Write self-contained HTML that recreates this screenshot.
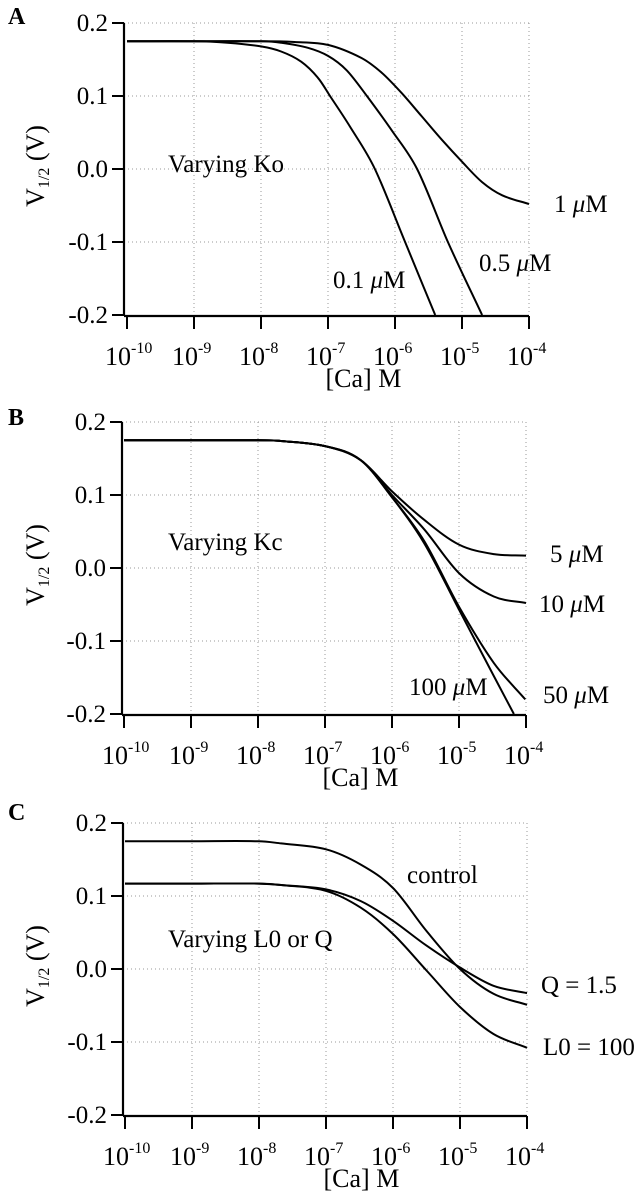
<!DOCTYPE html>
<html><head><meta charset="utf-8">
<style>
html,body{margin:0;padding:0;background:#fff;}
svg{display:block;font-family:"Liberation Serif",serif;}
</style></head>
<body>
<svg id="fig" width="640" height="1199" viewBox="0 0 640 1199" xmlns="http://www.w3.org/2000/svg"></svg>
<script>
// ---- data (x = log10 [Ca] M, y = V1/2 in V) ----
const xTicks = [-10,-9,-8,-7,-6,-5,-4];
const yTicks = [0.2,0.1,0.0,-0.1,-0.2];
const yTickLabels = ["0.2","0.1","0.0","-0.1","-0.2"];
const xTickExps = ["-10","-9","-8","-7","-6","-5","-4"];

const aKo01X = [-10,-9,-8.5,-8,-7.7,-7.4,-7.15,-6.97,-6.65,-6.3,-5.85,-5.4];
const aKo01Y = [0.175,0.175,0.173,0.168,0.161,0.147,0.125,0.1,0.055,0.0,-0.1,-0.2];
const aKo05X = [-10,-9,-8,-7.7,-7.3,-7,-6.72,-6.42,-6.05,-5.67,-5.21,-4.7];
const aKo05Y = [0.175,0.175,0.175,0.173,0.166,0.155,0.135,0.1,0.053,0.0,-0.1,-0.2];
const aKo1X = [-10,-9,-8,-7.5,-7,-6.5,-6.2,-5.9,-5.6,-5.3,-5,-4.7,-4.4,-4];
const aKo1Y = [0.175,0.175,0.175,0.174,0.170,0.152,0.132,0.104,0.072,0.040,0.010,-0.018,-0.036,-0.048];

const bKc5X = [-10,-9,-8,-7.66,-7,-6.47,-6,-5.52,-5,-4.48,-4];
const bKc5Y = [0.175,0.175,0.175,0.174,0.167,0.148,0.105,0.066,0.032,0.019,0.017];
const bKc10X = [-10,-9,-8,-7.66,-7,-6.47,-6,-5.52,-5,-4.48,-4];
const bKc10Y = [0.175,0.175,0.175,0.174,0.167,0.148,0.1,0.053,-0.007,-0.039,-0.048];
const bKc50X = [-10,-9,-8,-7.66,-7,-6.47,-6,-5.52,-5,-4.48,-4.01];
const bKc50Y = [0.175,0.175,0.175,0.174,0.167,0.148,0.097,0.037,-0.053,-0.13,-0.18];
const bKc100X = [-10,-9,-8,-7.66,-7,-6.47,-6,-5.52,-5,-4.48,-4.18];
const bKc100Y = [0.175,0.175,0.175,0.174,0.167,0.148,0.097,0.034,-0.057,-0.148,-0.2];

const cCtrlX = [-10,-9,-8,-7.67,-7,-6.48,-6,-5.5,-5,-4.5,-4];
const cCtrlY = [0.175,0.175,0.175,0.172,0.164,0.143,0.111,0.052,0.0,-0.034,-0.049];
const cQX = [-10,-9,-8,-7.67,-7,-6.48,-6,-5.5,-5,-4.5,-4];
const cQY = [0.117,0.117,0.117,0.115,0.109,0.093,0.066,0.032,0.002,-0.023,-0.033];
const cL0X = [-10,-9,-8,-7.67,-7,-6.48,-6,-5.5,-5,-4.5,-4];
const cL0Y = [0.117,0.117,0.117,0.115,0.107,0.084,0.048,-0.002,-0.052,-0.089,-0.108];

const NS = "http://www.w3.org/2000/svg";
const svg = document.getElementById('fig');
function mk(tag, attrs, parent){
  const e = document.createElementNS(NS, tag);
  for (const k in attrs) e.setAttribute(k, attrs[k]);
  (parent||svg).appendChild(e);
  return e;
}
function smoothPath(pts){
  let d = "M"+pts[0][0].toFixed(1)+","+pts[0][1].toFixed(1);
  for (let i=0;i<pts.length-1;i++){
    const p0=pts[Math.max(0,i-1)], p1=pts[i], p2=pts[i+1], p3=pts[Math.min(pts.length-1,i+2)];
    const dx = p2[0]-p1[0];
    const s1 = (p2[1]-p0[1])/((p2[0]-p0[0])||1);
    const s2 = (p3[1]-p1[1])/((p3[0]-p1[0])||1);
    const c1=[p1[0]+dx/3, p1[1]+s1*dx/3];
    const c2=[p2[0]-dx/3, p2[1]-s2*dx/3];
    d += " C"+c1[0].toFixed(1)+","+c1[1].toFixed(1)+" "+c2[0].toFixed(1)+","+c2[1].toFixed(1)+" "+p2[0].toFixed(1)+","+p2[1].toFixed(1);
  }
  return d;
}

function panel(cfg){
  const g = mk('g', {});
  
  
  const sx = v => cfg.x0 + (v+10)*(cfg.x1-cfg.x0)/6;
  const sy = v => cfg.yTop + (0.2-v)*(cfg.yBot-cfg.yTop)/0.4;
  xTicks.forEach((t,i)=>{
    if (i===0) return;
    const l = mk('line',{x1:sx(t),x2:sx(t),y1:sy(0.2),y2:sy(-0.2),stroke:'#999','stroke-width':1,'stroke-dasharray':'1,3'},g);
    
    
  });
  yTicks.forEach((t,i)=>{
    if (i===4) return;
    const l = mk('line',{x1:cfg.ax,x2:sx(-4),y1:sy(t),y2:sy(t),stroke:'#999','stroke-width':1,'stroke-dasharray':'1,3'},g);
    
    
  });
  const ya = mk('line',{x1:cfg.ax,x2:cfg.ax,y1:sy(0.2),y2:sy(-0.2)+1,stroke:'#000','stroke-width':2.2},g);
  
  
  const xa = mk('line',{x1:cfg.ax,x2:sx(-4),y1:sy(-0.2)+1,y2:sy(-0.2)+1,stroke:'#000','stroke-width':2.2},g);
  
  
  yTicks.forEach((t,i)=>{
    const tk = mk('line',{x1:cfg.ax-12,x2:cfg.ax,y1:sy(t),y2:sy(t),stroke:'#000','stroke-width':2},g);
    
    
    const tl = mk('text',{x:cfg.ax-16,y:sy(t)+8,'font-size':25,'text-anchor':'end'},g);
    tl.textContent = yTickLabels[i];
    
    
  });
  xTicks.forEach((t,i)=>{
    const tk = mk('line',{x1:sx(t),x2:sx(t),y1:sy(-0.2)+1,y2:sy(-0.2)+14,stroke:'#000','stroke-width':2},g);
    
    
    const tl = mk('text',{x:sx(t)-22,y:sy(-0.2)+50,'font-size':26},g);
    
    
    const b = mk('tspan',{},tl); b.textContent='10';
    const e = mk('tspan',{dy:-12,'font-size':16},tl); e.textContent=xTickExps[i];
  });
  const xt = mk('text',{x:(sx(-7)+sx(-6))/2-36,y:sy(-0.2)+72,'font-size':26},g);
  xt.textContent='[Ca] M';
  
  
  const yt = mk('text',{transform:'translate(44,'+(sy(0.0)-3)+') rotate(-90)','font-size':26,'text-anchor':'middle'},g);
  
  
  const v = mk('tspan',{},yt); v.textContent='V';
  const s = mk('tspan',{'font-size':16,dy:5},yt); s.textContent='1/2';
  const r = mk('tspan',{dy:-5},yt); r.textContent=' (V)';
  const pl = mk('text',{x:8,y:cfg.letterY,'font-size':24,'font-weight':'bold'},g);
  pl.textContent = cfg.letter;
  
  
  const vt = mk('text',{x:168,y:cfg.varY,'font-size':25},g);
  vt.textContent = cfg.varText;
  
  
  cfg.series.forEach(se=>{
    const pts = se.xs.map((xv,i)=>[sx(xv), sy(se.ys[i])]);
    const p = mk('path',{d:smoothPath(pts),fill:'none',stroke:'#000','stroke-width':2},g);
    
    
    const t = mk('text',{x:se.lx,y:se.ly,'font-size':25},g);
    
    
    if (se.mu){
      const a = mk('tspan',{},t); a.textContent = se.label+' ';
      const m = mk('tspan',{'font-style':'italic'},t); m.textContent='\u03bc';
      const b = mk('tspan',{},t); b.textContent='M';
    } else t.textContent = se.label;
  });
}

panel({name:'panel-a',letter:'A',letterY:24,ax:124,x0:127,x1:529,yTop:23,yBot:315,varText:'Varying Ko',varY:172,
  series:[
    {xs:aKo01X,ys:aKo01Y,label:'0.1',mu:true,lx:333,ly:288},
    {xs:aKo05X,ys:aKo05Y,label:'0.5',mu:true,lx:479,ly:271},
    {xs:aKo1X,ys:aKo1Y,label:'1',mu:true,lx:554,ly:212}
  ]});
panel({name:'panel-b',letter:'B',letterY:425,ax:122,x0:124,x1:526,yTop:422,yBot:714,varText:'Varying Kc',varY:550,
  series:[
    {xs:bKc5X,ys:bKc5Y,label:'5',mu:true,lx:550,ly:562},
    {xs:bKc10X,ys:bKc10Y,label:'10',mu:true,lx:539,ly:612},
    {xs:bKc50X,ys:bKc50Y,label:'50',mu:true,lx:543,ly:703},
    {xs:bKc100X,ys:bKc100Y,label:'100',mu:true,lx:409,ly:695}
  ]});
panel({name:'panel-c',letter:'C',letterY:820,ax:123,x0:125,x1:527,yTop:823,yBot:1115,varText:'Varying L0 or Q',varY:947,
  series:[
    {xs:cCtrlX,ys:cCtrlY,label:'control',mu:false,lx:407,ly:883},
    {xs:cQX,ys:cQY,label:'Q = 1.5',mu:false,lx:541,ly:993},
    {xs:cL0X,ys:cL0Y,label:'L0 = 100',mu:false,lx:543,ly:1055}
  ]});
</script>
</body></html>
